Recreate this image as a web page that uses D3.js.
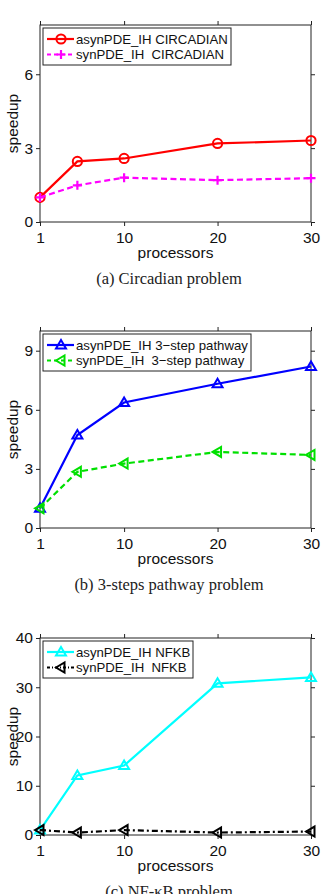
<!DOCTYPE html>
<html>
<head>
<meta charset="utf-8">
<script src="https://cdn.jsdelivr.net/npm/d3@7/dist/d3.min.js"></script>
<style>
html,body{margin:0;padding:0;background:#fff;}
svg{display:block;}
</style>
</head>
<body>
<svg id="chart" width="325" height="894"></svg>
<script>
// ---- data ----
const processors = [1, 5, 10, 20, 30];
const xTicks = [1, 10, 20, 30];

const circadianAsyn = [1.0, 2.46, 2.58, 3.19, 3.31];
const circadianSyn  = [1.0, 1.49, 1.80, 1.70, 1.78];
const circadianYTicks = [0, 3, 6];

const pathwayAsyn = [1.0, 4.72, 6.37, 7.32, 8.2];
const pathwaySyn  = [1.0, 2.85, 3.27, 3.86, 3.71];
const pathwayYTicks = [0, 3, 6, 9];

const nfkbAsyn = [1.0, 12.1, 14.1, 30.8, 32.0];
const nfkbSyn  = [1.0, 0.5, 1.0, 0.5, 0.7];
const nfkbYTicks = [0, 10, 20, 30, 40];

const legendCircadian = ["asynPDE_IH CIRCADIAN", "synPDE_IH  CIRCADIAN"];
const legendPathway = ["asynPDE_IH 3\u2212step pathway", "synPDE_IH  3\u2212step pathway"];
const legendNfkb = ["asynPDE_IH NFKB", "synPDE_IH  NFKB"];

const captions = ["(a) Circadian problem", "(b) 3-steps pathway problem", "(c) NF-\u03baB problem"];

// ---- drawing ----
const svg = d3.select("#chart");
const sans = "Liberation Sans, Arial, Helvetica, sans-serif";
const serif = "Liberation Serif, DejaVu Serif, serif";

function marker(g, type, x, y, color) {
  const s = 5;
  if (type === "circle") {
    g.append("circle").attr("cx", x).attr("cy", y).attr("r", 4.6)
      .attr("fill", "none").attr("stroke", color).attr("stroke-width", 2);
  } else if (type === "plus") {
    g.append("path").attr("d", `M${x-4.5},${y}H${x+4.5}M${x},${y-4.5}V${y+4.5}`)
      .attr("stroke", color).attr("stroke-width", 2.2).attr("fill", "none");
  } else if (type === "up") {
    g.append("path").attr("d", `M${x},${y-s}L${x+s},${y+s*0.7}L${x-s},${y+s*0.7}Z`)
      .attr("fill", "none").attr("stroke", color).attr("stroke-width", 2);
  } else if (type === "left") {
    g.append("path").attr("d", `M${x-s},${y}L${x+s*0.7},${y-s}L${x+s*0.7},${y+s}Z`)
      .attr("fill", "none").attr("stroke", color).attr("stroke-width", 2);
  }
}

function panel(cfg) {
  const left = 40, right = 311;
  const top = cfg.top, bottom = cfg.top + 197;
  const x = d3.scaleLinear().domain([1, 30]).range([left, right]);
  const y = d3.scaleLinear().domain([0, cfg.ymax]).range([bottom, top]);
  const g = svg.append("g");

  g.append("rect").attr("x", left).attr("y", top).attr("width", right-left).attr("height", bottom-top)
    .attr("fill", "none").attr("stroke", "#222").attr("stroke-width", 1);

  const axB = g.append("g").attr("transform", `translate(0,${bottom})`)
    .call(d3.axisBottom(x).tickValues(xTicks).tickSize(4).tickPadding(5).tickFormat(d3.format("d")));
  const axT = g.append("g").attr("transform", `translate(0,${top})`)
    .call(d3.axisTop(x).tickValues(xTicks).tickSize(4).tickFormat(""));
  const axL = g.append("g").attr("transform", `translate(${left},0)`)
    .call(d3.axisLeft(y).tickValues(cfg.yticks).tickSize(4).tickPadding(3).tickFormat(d3.format("d")));
  const axR = g.append("g").attr("transform", `translate(${right},0)`)
    .call(d3.axisRight(y).tickValues(cfg.yticks).tickSize(4).tickFormat(""));
  [axB, axT, axL, axR].forEach(a => {
    a.select(".domain").remove();
    a.selectAll("line").attr("stroke", "#222");
    a.selectAll("text").attr("font-family", sans).attr("font-size", 15.5).attr("fill", "#111");
  });
  axB.selectAll("text").attr("dy", "0.78em");

  g.append("text").attr("x", (left+right)/2).attr("y", bottom + 36).attr("text-anchor", "middle")
    .attr("font-family", sans).attr("font-size", 15.5).attr("fill", "#111").text("processors");
  g.append("text").attr("transform", `translate(18,${(top+bottom)/2}) rotate(-90)`).attr("text-anchor", "middle")
    .attr("font-family", sans).attr("font-size", 15.5).attr("fill", "#111").text("speedup");
  g.append("text").attr("x", 169).attr("y", bottom + 62).attr("text-anchor", "middle")
    .attr("font-family", serif).attr("font-size", 16.5).attr("fill", "#222").text(cfg.caption);

  cfg.series.forEach(s => {
    const line = d3.line().x((d, i) => x(processors[i])).y(d => y(d));
    g.append("path").datum(s.values).attr("d", line).attr("fill", "none")
      .attr("stroke", s.color).attr("stroke-width", 2.2)
      .attr("stroke-dasharray", s.dash || null);
    s.values.forEach((v, i) => marker(g, s.marker, x(processors[i]), y(v), s.color));
  });

  const lx = 43, ly = top + 3, lw = cfg.legendWidth, lh = 37;
  const lg = g.append("g");
  lg.append("rect").attr("x", lx).attr("y", ly).attr("width", lw).attr("height", lh)
    .attr("fill", "#fff").attr("stroke", "#222").attr("stroke-width", 1);
  cfg.series.forEach((s, i) => {
    const yy = ly + 11 + i * 15.5;
    lg.append("line").attr("x1", lx + 4).attr("x2", lx + 31).attr("y1", yy).attr("y2", yy)
      .attr("stroke", s.color).attr("stroke-width", 2.2).attr("stroke-dasharray", s.dash ? s.legendDash : null);
    marker(lg, s.marker, lx + 18, yy, s.color);
    lg.append("text").attr("x", lx + 33).attr("y", yy + 4.5).attr("xml:space", "preserve")
      .style("white-space", "pre")
      .attr("font-family", sans).attr("font-size", 13.2).attr("fill", "#111").text(cfg.legend[i]);
  });
}

panel({
  top: 25, ymax: 8, yticks: circadianYTicks, caption: captions[0], legend: legendCircadian, legendWidth: 188,
  series: [
    {values: circadianAsyn, color: "#ff0000", marker: "circle"},
    {values: circadianSyn, color: "#ff00ff", marker: "plus", dash: "6,3.5", legendDash: "4,3"}
  ]
});
panel({
  top: 331, ymax: 10, yticks: pathwayYTicks, caption: captions[1], legend: legendPathway, legendWidth: 208,
  series: [
    {values: pathwayAsyn, color: "#0000ff", marker: "up"},
    {values: pathwaySyn, color: "#00e000", marker: "left", dash: "6,3.5", legendDash: "4,3"}
  ]
});
panel({
  top: 638, ymax: 40, yticks: nfkbYTicks, caption: captions[2], legend: legendNfkb, legendWidth: 150,
  series: [
    {values: nfkbAsyn, color: "#00ffff", marker: "up"},
    {values: nfkbSyn, color: "#000000", marker: "left", dash: "6,3,2,3", legendDash: "3,2,1,2"}
  ]
});
</script>
</body>
</html>
